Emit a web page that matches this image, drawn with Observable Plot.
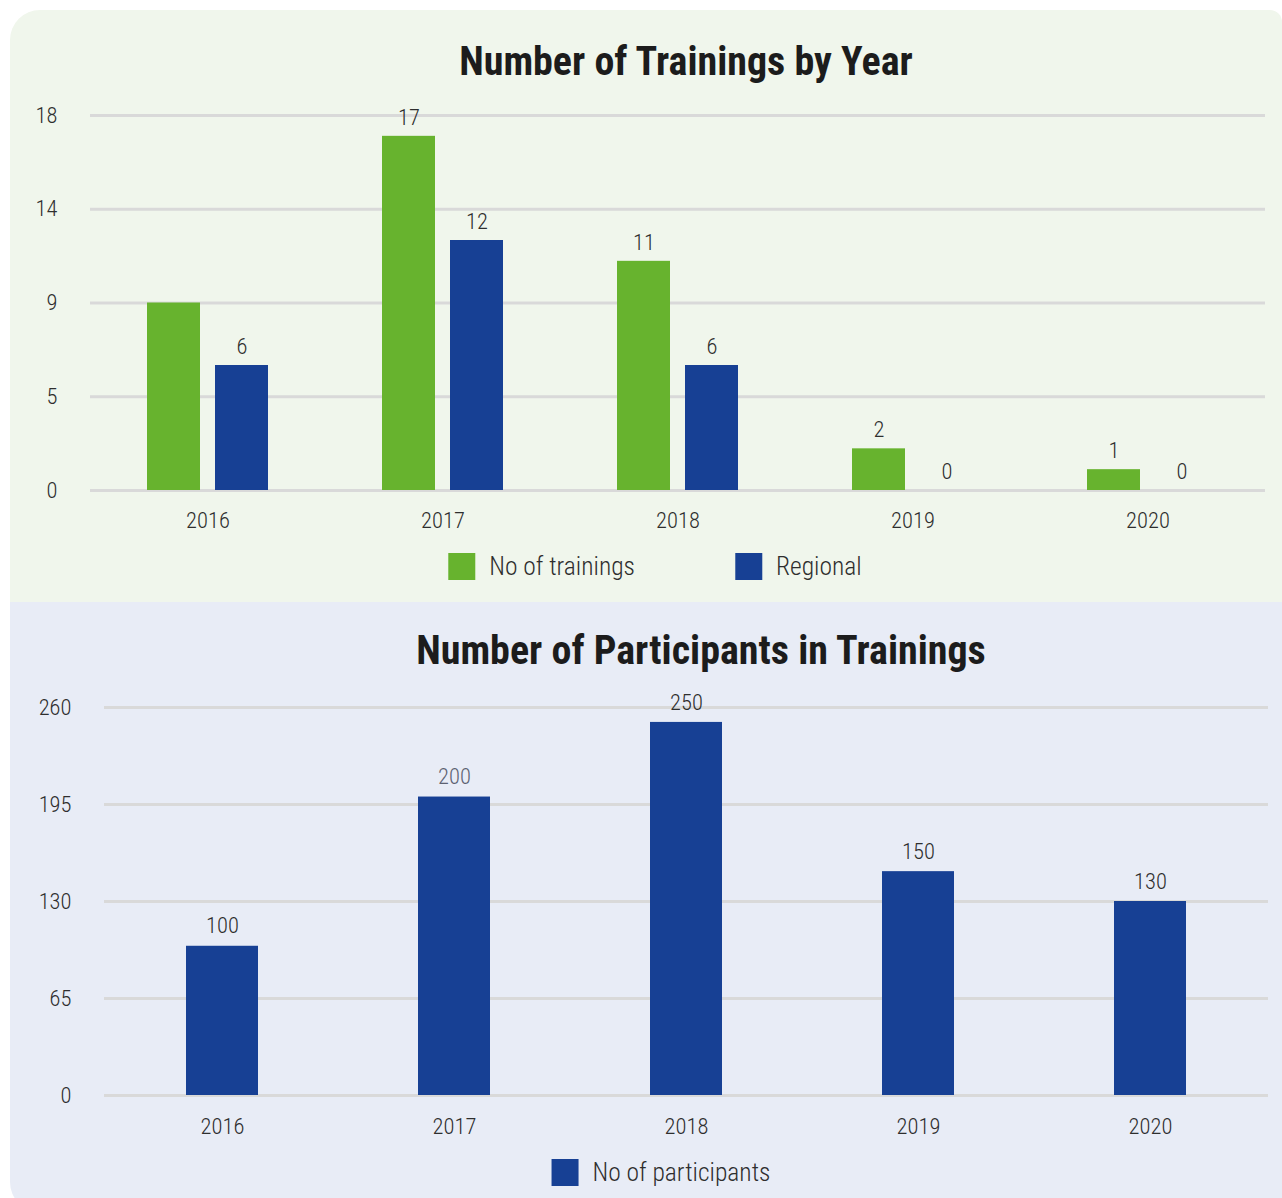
<!DOCTYPE html>
<html><head><meta charset="utf-8">
<script src="https://cdn.jsdelivr.net/npm/d3@7"></script>
<script src="https://cdn.jsdelivr.net/npm/@observablehq/plot@0.6"></script>
<style>
html,body{margin:0;padding:0;background:#fff}
body{width:1282px;height:1198px;position:relative;overflow:hidden;font-family:"Roboto Condensed","Open Sans",sans-serif;font-weight:300;color:#2e2e2e}
.panel{position:absolute;left:10px;width:1272px}
#p1{top:10px;height:592px;background:#f0f6ec;border-radius:30px 12px 0 0}
#p2{top:602px;height:610px;background:#e8ecf6;border-radius:0 0 0 30px}
.title{position:absolute;left:0;width:1372px;text-align:center;font-weight:bold;font-size:40px;color:#1c1c1c;line-height:1}
.chart{position:absolute;left:0}
.legend{position:absolute;display:flex;align-items:center;gap:100px;font-size:25.5px;line-height:1;transform:translateX(-50%)}
.item{display:flex;align-items:center;gap:14px}
.sw{width:27px;height:27px;display:inline-block}
</style>
</head><body>
<div class="panel" id="p1"></div>
<div class="panel" id="p2"></div>
<div class="title" id="t1" style="top:42px">Number of Trainings by Year</div>
<div class="title" id="t2" style="top:631px;width:1402px">Number of Participants in Trainings</div>
<div class="chart" id="c1" style="top:90px"></div>
<div class="chart" id="c2" style="top:680px"></div>
<div class="legend" id="l1" style="left:655px;top:553px"></div>
<div class="legend" id="l2" style="left:661px;top:1159px"></div>
<script>
const years = ["2016", "2017", "2018", "2019", "2020"];
const seriesNames = ["No of trainings", "Regional"];
const trainings = [9, 17, 11, 2, 1];
const regional = [6, 12, 6, 0, 0];
const topTicks = [0, 4.5, 9, 13.5, 18];
const topTickLabels = ["0", "5", "9", "14", "18"];
const participantsName = "No of participants";
const participants = [100, 200, 250, 150, 130];
const bottomTicks = [0, 65, 130, 195, 260];

const GREEN = "#67b32e", BLUE = "#174094", GRID = "#d9d9d9", INK = "#2e2e2e";
const FONT = '"Roboto Condensed","Open Sans",sans-serif';

const topData = years.flatMap((y, i) => [
  {year: y, series: seriesNames[0], value: trainings[i]},
  {year: y, series: seriesNames[1], value: regional[i]}
]);
// the reference shows no value label above the 2016 "No of trainings" bar
const topLabels = topData.filter(d => !(d.year === "2016" && d.series === seriesNames[0]));

const chartTop = Plot.plot({
  width: 1282, height: 460,
  marginLeft: 89, marginRight: 17, marginTop: 25, marginBottom: 60,
  style: {background: "transparent", fontFamily: FONT, fontSize: "22.5px", fontWeight: 300, color: INK, overflow: "visible"},
  fx: {domain: years, padding: 0, axis: "bottom", tickSize: 0, tickPadding: 22, label: null},
  x: {domain: seriesNames, paddingInner: 0.22, paddingOuter: 0.82, axis: null},
  y: {domain: [0, 18], ticks: topTicks, tickFormat: d => topTickLabels[topTicks.indexOf(d)], tickSize: 0, tickPadding: 33, label: null},
  color: {domain: seriesNames, range: [GREEN, BLUE]},
  marks: [
    Plot.ruleY(topTicks, {stroke: GRID, strokeWidth: 3}),
    Plot.barY(topData, {fx: "year", x: "series", y: "value", fill: "series"}),
    Plot.text(topLabels, {fx: "year", x: "series", y: "value", text: d => String(d.value), dy: -19, fontSize: 22.5, fill: INK})
  ]
});
document.getElementById("c1").appendChild(chartTop);

const bottomData = years.map((y, i) => ({year: y, value: participants[i]}));
const chartBottom = Plot.plot({
  width: 1282, height: 480,
  marginLeft: 104, marginRight: 14, marginTop: 27, marginBottom: 65,
  style: {background: "transparent", fontFamily: FONT, fontSize: "22.5px", fontWeight: 300, color: INK, overflow: "visible"},
  x: {domain: years, paddingInner: 0.69, paddingOuter: 0.345, tickSize: 0, tickPadding: 23, label: null},
  y: {domain: [0, 260], ticks: bottomTicks, tickSize: 0, tickPadding: 33, label: null},
  marks: [
    Plot.ruleY(bottomTicks, {stroke: GRID, strokeWidth: 3}),
    Plot.barY(bottomData, {x: "year", y: "value", fill: BLUE}),
    Plot.text(bottomData, {x: "year", y: "value", text: d => String(d.value), dy: -20, fontSize: 22.5,
      fill: d => d.year === "2017" ? "#5d6272" : INK})
  ]
});
document.getElementById("c2").appendChild(chartBottom);

function legend(el, names, colors) {
  names.forEach((n, i) => {
    const it = document.createElement("div"); it.className = "item";
    const sw = document.createElement("span"); sw.className = "sw"; sw.style.background = colors[i];
    const tx = document.createElement("span"); tx.textContent = n;
    it.appendChild(sw); it.appendChild(tx); el.appendChild(it);
  });
}
legend(document.getElementById("l1"), seriesNames, [GREEN, BLUE]);
legend(document.getElementById("l2"), [participantsName], [BLUE]);
</script>
</body></html>
